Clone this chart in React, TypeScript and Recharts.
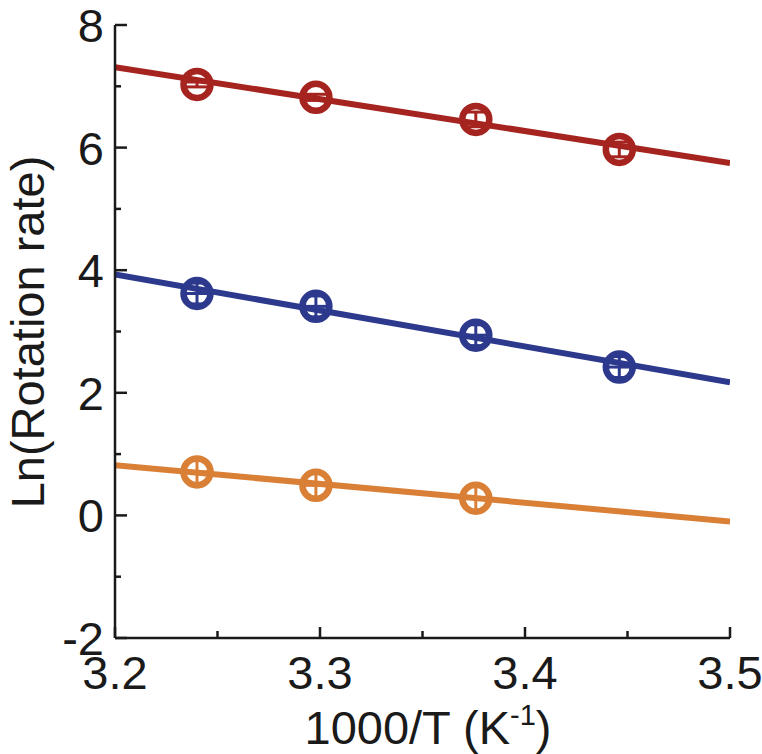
import React from 'react';
import {
  ComposedChart,
  Line,
  Scatter,
  ErrorBar,
  XAxis,
  YAxis,
  Label,
} from 'recharts';

// inverse temperature (1000/T) of the four measurements
const invTemp = [3.24, 3.298, 3.376, 3.446];
// ln(rotation rate) per sample, with error bars
const redRate = [7.03, 6.82, 6.46, 5.97];
const redErr = [0.04, 0.05, 0.12, 0.12];
const blueRate = [3.62, 3.41, 2.94, 2.42];
const blueErr = [0.17, 0.17, 0.17, 0.17];
const orangeRate = [0.71, 0.49, 0.28];
const orangeErr = [0.18, 0.18, 0.18];
const xErrSmall = [0.0055, 0.0055, 0.0055, 0.0055];

// linear fits, evaluated at the ends of the x range
const fitX = [3.2, 3.5];
const redFit = [7.31, 5.75];
const blueFit = [3.93, 2.17];
const orangeFit = [0.82, -0.1];

const xTicks = [3.2, 3.25, 3.3, 3.35, 3.4, 3.45, 3.5];
const yTicks = [-2, -1, 0, 1, 2, 3, 4, 5, 6, 7, 8];

const RED = '#a6241f';
const BLUE = '#2c398d';
const ORANGE = '#da7f36';
const INK = '#1a1a1a';
const FONT = '"Liberation Sans", Arial, sans-serif';

const points = (ys: number[], errs: number[]) =>
  ys.map((y, i) => ({ x: invTemp[i], y, err: errs[i], xErr: xErrSmall[i] }));
const fit = (ys: number[]) => fitX.map((x, i) => ({ x, y: ys[i] }));

const ring = (color: string) => (p: any) => (
  <circle cx={p.cx} cy={p.cy} r={13.5} fill="none" stroke={color} strokeWidth={6.5} />
);

function XTick({ x, y, payload }: any) {
  const v = payload.value as number;
  const major = Math.abs(v * 10 - Math.round(v * 10)) < 1e-6;
  return (
    <g>
      <line x1={x} x2={x} y1={y} y2={y - (major ? 11 : 7)} stroke={INK} strokeWidth={2.5} />
      {major && (
        <text x={x} y={y + 51} textAnchor="middle" fontSize={47} fontFamily={FONT} fill={INK}>
          {v.toFixed(1)}
        </text>
      )}
    </g>
  );
}

function YTick({ x, y, payload }: any) {
  const v = payload.value as number;
  const major = v % 2 === 0;
  return (
    <g>
      <line x1={x} x2={x + (major ? 12 : 6)} y1={y} y2={y} stroke={INK} strokeWidth={2.5} />
      {major && (
        <text x={x - 11} y={y + 17} textAnchor="end" fontSize={47} fontFamily={FONT} fill={INK}>
          {String(v)}
        </text>
      )}
    </g>
  );
}

export default function App() {
  return (
    <div style={{ position: 'absolute', left: 0, top: 0, background: '#fff' }}>
      <ComposedChart
        width={762}
        height={754}
        margin={{ top: 25, right: 32, bottom: 0, left: 0 }}
      >
        <XAxis
          type="number"
          dataKey="x"
          domain={[3.2, 3.5]}
          ticks={xTicks}
          allowDataOverflow
          height={116}
          tickSize={0}
          tickMargin={0}
          tickLine={false}
          axisLine={{ stroke: INK, strokeWidth: 2.5 }}
          tick={<XTick />}
        >
          <Label
            content={() => (
              <text x={428} y={744} textAnchor="middle" fontSize={47} fontFamily={FONT} fill={INK}>
                1000/T (K
                <tspan dy={-19} fontSize={29}>-1</tspan>
                <tspan dy={19}>)</tspan>
              </text>
            )}
          />
        </XAxis>
        <YAxis
          type="number"
          domain={[-2, 8]}
          ticks={yTicks}
          allowDataOverflow
          width={115}
          tickSize={0}
          tickMargin={0}
          tickLine={false}
          axisLine={{ stroke: INK, strokeWidth: 2.5 }}
          tick={<YTick />}
        >
          <Label
            content={() => (
              <text
                transform="translate(44, 332) rotate(-90)"
                textAnchor="middle"
                fontSize={47}
                fontFamily={FONT}
                fill={INK}
              >
                Ln(Rotation rate)
              </text>
            )}
          />
        </YAxis>

        <Line data={fit(redFit)} dataKey="y" type="linear" stroke={RED} strokeWidth={6} dot={false} isAnimationActive={false} />
        <Line data={fit(blueFit)} dataKey="y" type="linear" stroke={BLUE} strokeWidth={6} dot={false} isAnimationActive={false} />
        <Line data={fit(orangeFit)} dataKey="y" type="linear" stroke={ORANGE} strokeWidth={6} dot={false} isAnimationActive={false} />

        <Scatter data={points(redRate, redErr)} dataKey="y" shape={ring(RED)} isAnimationActive={false}>
          <ErrorBar dataKey="err" direction="y" width={12} stroke={RED} strokeWidth={3} isAnimationActive={false} />
        </Scatter>
        <Scatter data={points(blueRate, blueErr)} dataKey="y" shape={ring(BLUE)} isAnimationActive={false}>
          <ErrorBar dataKey="err" direction="y" width={8} stroke={BLUE} strokeWidth={3} isAnimationActive={false} />
          <ErrorBar dataKey="xErr" direction="x" width={0} stroke={BLUE} strokeWidth={3} isAnimationActive={false} />
        </Scatter>
        <Scatter data={points(orangeRate, orangeErr)} dataKey="y" shape={ring(ORANGE)} isAnimationActive={false}>
          <ErrorBar dataKey="err" direction="y" width={0} stroke={ORANGE} strokeWidth={3} isAnimationActive={false} />
          <ErrorBar dataKey="xErr" direction="x" width={0} stroke={ORANGE} strokeWidth={3} isAnimationActive={false} />
        </Scatter>
      </ComposedChart>
    </div>
  );
}
